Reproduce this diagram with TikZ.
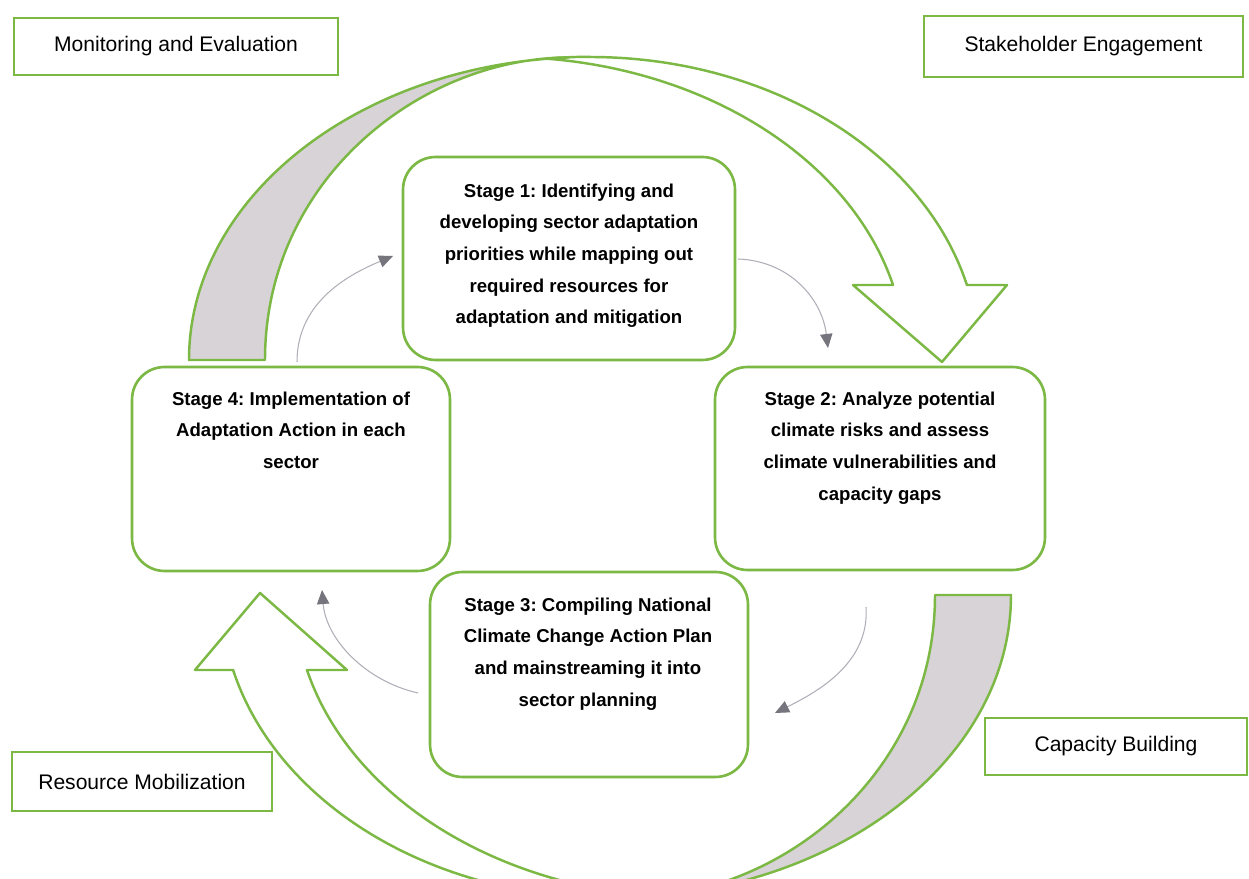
\documentclass[tikz,border=0pt]{standalone}
\usepackage{fontspec}
\setmainfont{Liberation Sans}
\usetikzlibrary{arrows.meta}
\definecolor{grn}{RGB}{124,184,68}
\definecolor{shade}{RGB}{216,211,214}
\definecolor{conncol}{RGB}{178,174,184}
\definecolor{headc}{RGB}{118,116,124}
\tikzset{
 labelbox/.style={draw=grn, line width=1.3pt, fill=white, font=\fontsize{12}{14}\selectfont, inner sep=0pt},
 stagebox/.style={draw=grn, line width=1.5pt, fill=white, rounded corners=0.65cm, inner sep=0pt},
 stagetext/.style={font=\bfseries\fontsize{10.6}{18}\selectfont\frenchspacing, align=center, inner sep=0pt, anchor=north},
 bigarrow/.style={draw=grn, line width=1.4pt, line join=round},
 connector/.style={draw=conncol, line width=0.6pt, -{Triangle[length=8pt,width=7pt,color=headc]}}
}
\begin{document}
\begin{tikzpicture}[x=0.02cm,y=0.02cm]
\useasboundingbox (0,0) rectangle (1249,879);
\fill[white] (0,0) rectangle (1249,879);
\begin{scope}
\clip (0,0) rectangle (1249,879);
% top curved arrow: front part with head
\path[bigarrow, fill=white] (590,822)
  arc[start angle=90, end angle=14.33, x radius=389, y radius=303]
  -- (1007,594) -- (942,517) -- (853,594) -- (893,594)
  arc[start angle=14.33, end angle=84, x radius=401, y radius=303]
  arc[start angle=96.3, end angle=90, x radius=401, y radius=303] -- cycle;
% top curved arrow: back (shaded) part
\path[bigarrow, fill=shade] (189,519) arc[start angle=180, end angle=93, x radius=401, y radius=303]
  .. controls (420,821) and (265,699) .. (265,519) -- cycle;
% bottom curved arrow: front part with head
\path[bigarrow, fill=white] (610,-19)
  arc[start angle=270, end angle=194.33, x radius=389, y radius=303]
  -- (195,209) -- (260,286) -- (347,209) -- (307,209)
  arc[start angle=194.33, end angle=264, x radius=401, y radius=303]
  arc[start angle=276.3, end angle=270, x radius=401, y radius=303] -- cycle;
% bottom curved arrow: back (shaded) part
\path[bigarrow, fill=shade] (1011,284) arc[start angle=0, end angle=-87, x radius=401, y radius=303]
  .. controls (780,-18) and (935,104) .. (935,284) -- cycle;
\end{scope}

% corner labels
\node[labelbox, minimum width=6.48cm, minimum height=1.14cm] (me) at (176,832.5) {Monitoring and Evaluation};
\node[labelbox, minimum width=6.38cm, minimum height=1.22cm] (se) at (1083.5,832.5) {Stakeholder Engagement};
\node[labelbox, minimum width=5.24cm, minimum height=1.14cm] (cb) at (1116,132.5) {Capacity Building};
\node[labelbox, minimum width=5.2cm, minimum height=1.18cm] (rm) at (142,97.5) {Resource Mobilization};

% stage boxes
\node[stagebox, minimum width=6.64cm, minimum height=4.06cm] (s1) at (569,620.5) {};
\node[stagebox, minimum width=6.6cm, minimum height=4.06cm] (s2) at (880,410.5) {};
\node[stagebox, minimum width=6.36cm, minimum height=4.1cm] (s3) at (589,204.5) {};
\node[stagebox, minimum width=6.36cm, minimum height=4.08cm] (s4) at (291,410) {};

\node[stagetext] (t1) at (569,695.5) {Stage 1: Identifying and\\developing sector adaptation\\priorities while mapping out\\required resources for\\adaptation and mitigation};
\node[stagetext] (t2) at (880,487.5) {Stage 2: Analyze potential\\climate risks and assess\\climate vulnerabilities and\\capacity gaps};
\node[stagetext] (t3) at (588,281.5) {Stage 3: Compiling National\\Climate Change Action Plan\\and mainstreaming it into\\sector planning};
\node[stagetext] (t4) at (291,487.5) {Stage 4: Implementation of\\Adaptation Action in each\\sector};

% connector ends
\coordinate (a1s) at (297,517);
\coordinate (a1e) at (393,623);
\coordinate (a2s) at (738,620);
\coordinate (a2e) at (828,531);
\coordinate (a3s) at (866,272);
\coordinate (a3e) at (775,166);
\coordinate (a4s) at (418,186);
\coordinate (a4e) at (322,289);

\draw[connector] (a1s) .. controls (297,575) and (345,603) .. (a1e);
\draw[connector] (a2s) .. controls (790,618) and (822,580) .. (a2e);
\draw[connector] (a3s) .. controls (870,215) and (815,186) .. (a3e);
\draw[connector] (a4s) .. controls (365,198) and (326,240) .. (a4e);
\end{tikzpicture}
\end{document}
